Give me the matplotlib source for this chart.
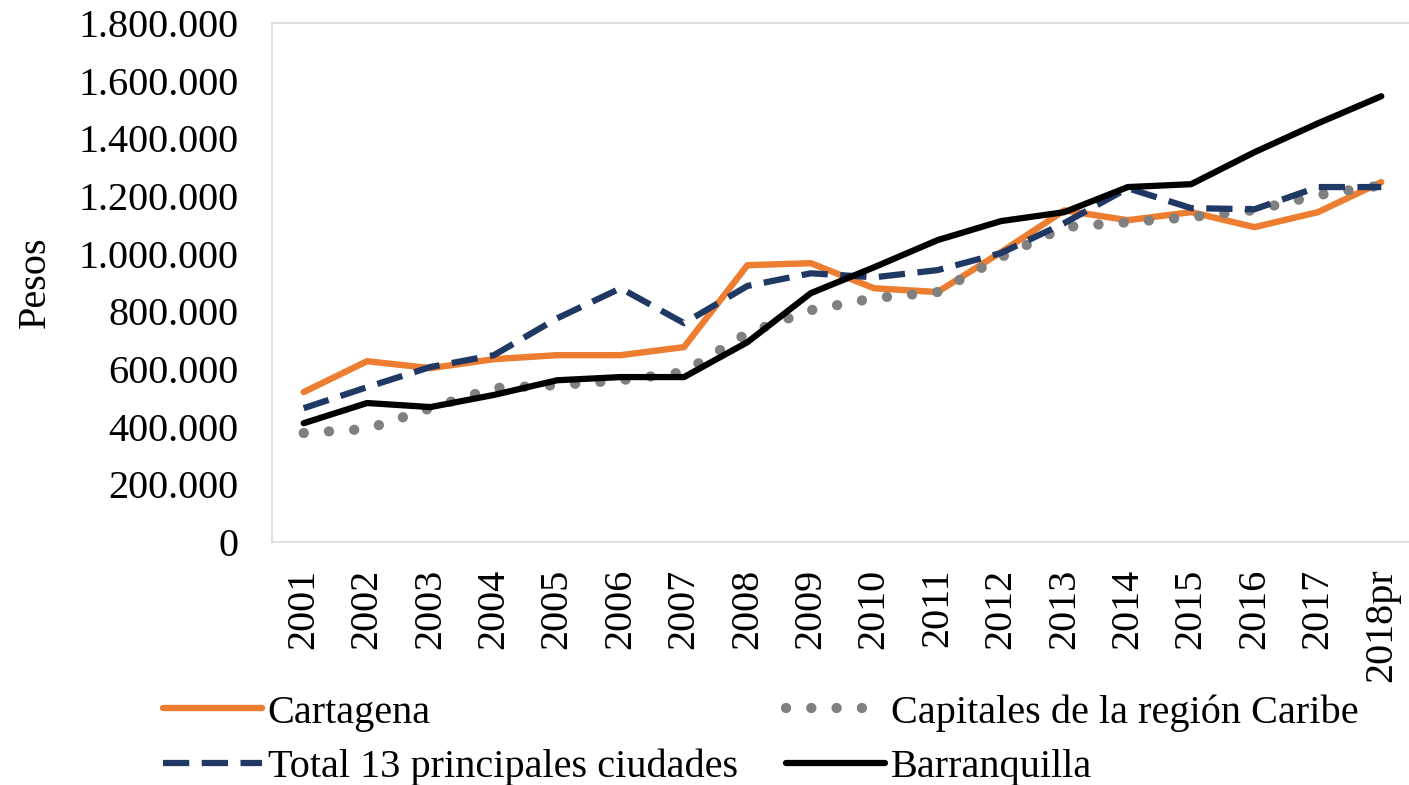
import matplotlib
matplotlib.use("Agg")
import matplotlib.pyplot as plt
from matplotlib.ticker import FuncFormatter

years = ["2001", "2002", "2003", "2004", "2005", "2006", "2007", "2008", "2009",
         "2010", "2011", "2012", "2013", "2014", "2015", "2016", "2017", "2018pr"]

cartagena = [520000, 627000, 603000, 634000, 648000, 648000, 676000, 960000, 967000,
             880000, 867000, 1005000, 1150000, 1116000, 1144000, 1092000, 1144000, 1248000]
capitales = [378000, 392000, 464000, 534000, 544000, 561000, 589000, 724000, 804000,
             846000, 867000, 988000, 1092000, 1109000, 1127000, 1151000, 1203000, 1237000]
total13 = [464000, 537000, 607000, 648000, 776000, 880000, 759000, 888000, 932000,
           918000, 943000, 1002000, 1106000, 1227000, 1158000, 1154000, 1231000, 1231000]
barranquilla = [412000, 482000, 468000, 510000, 561000, 572000, 572000, 693000, 863000,
                953000, 1047000, 1113000, 1144000, 1231000, 1241000, 1352000, 1452000, 1546000]

plt.rcParams['font.family'] = ['Liberation Serif', 'DejaVu Serif']
FS = 29

W, H = 1409, 785
fig = plt.figure(figsize=(W / 100, H / 100), dpi=100)
left, right, top, bottom = 272, 1413, 23, 542
ax = fig.add_axes([left / W, 1 - bottom / H, (right - left) / W, (bottom - top) / H])

x = list(range(len(years)))
l1, = ax.plot(x, cartagena, color='#ED7D31', lw=4.6, solid_capstyle='round', label='Cartagena')
l2, = ax.plot(x, capitales, color='#808080', lw=7.4, linestyle=(0, (0.01, 2.45)),
              dash_capstyle='round', label='Capitales de la región Caribe')
l3, = ax.plot(x, total13, color='#1F3864', lw=4.5, linestyle=(0, (4.2, 2.0)),
              dash_capstyle='butt', label='Total 13 principales ciudades')
l4, = ax.plot(x, barranquilla, color='black', lw=4.5, solid_capstyle='round', label='Barranquilla')

ax.set_xlim(-0.5, len(years) - 0.5)
ax.set_ylim(0, 1800000)
ax.set_yticks(range(0, 1800001, 200000))
ax.yaxis.set_major_formatter(FuncFormatter(lambda v, p: f"{int(v):,}".replace(",", ".")))
ax.set_xticks(x)
ax.set_xticklabels(years, rotation=90, fontsize=FS)
ax.tick_params(axis='y', labelsize=FS, length=0, pad=24)
ax.tick_params(axis='x', length=0, pad=19)
for s in ax.spines.values():
    s.set_color('#D9D9D9')
    s.set_linewidth(1.2)
ax.set_ylabel('Pesos', fontsize=FS, labelpad=18)

leg = fig.legend(handles=[l1, l3, l2, l4], loc='upper left', ncol=2,
                 bbox_to_anchor=(163 / W, 1 - 694 / H), frameon=False, fontsize=FS,
                 handlelength=2.45, handletextpad=0.15, columnspacing=1.2,
                 labelspacing=0.42, borderpad=0.0, borderaxespad=0.0)

fig.savefig('out.png', dpi=100)
